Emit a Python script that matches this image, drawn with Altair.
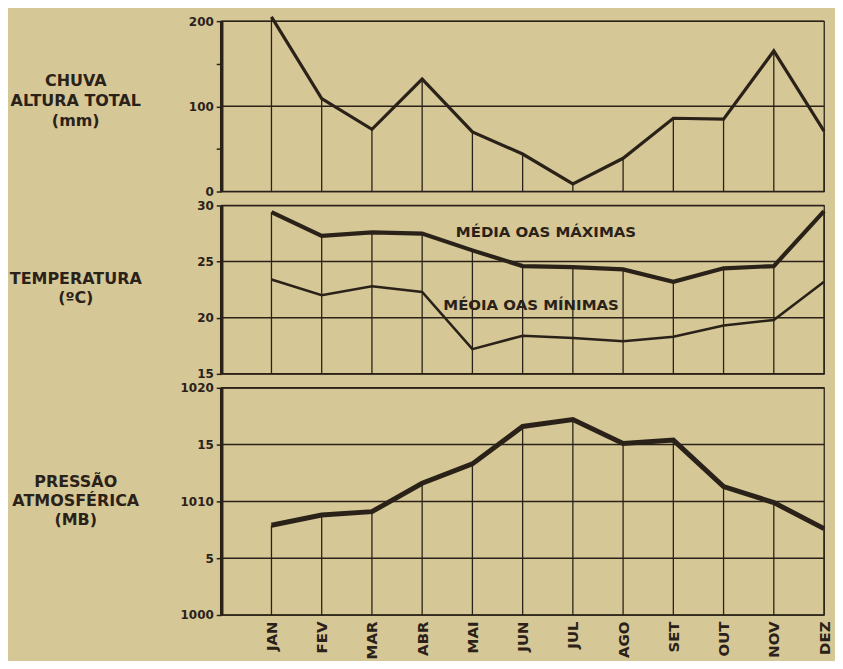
import altair as alt
import pandas as pd

# ---------------- data ----------------
months = ["JAN", "FEV", "MAR", "ABR", "MAI", "JUN", "JUL", "AGO", "SET", "OUT", "NOV", "DEZ"]
month_idx = list(range(1, 13))
chuva = [205, 109, 73, 132, 70, 44, 9, 39, 86, 85, 165, 71]
temp_max = [29.4, 27.3, 27.6, 27.5, 26.0, 24.6, 24.5, 24.3, 23.2, 24.4, 24.6, 29.5]
temp_min = [23.4, 22.0, 22.8, 22.3, 17.2, 18.4, 18.2, 17.9, 18.3, 19.3, 19.8, 23.2]
pressao = [1007.9, 1008.8, 1009.1, 1011.6, 1013.3, 1016.6, 1017.2, 1015.1, 1015.4, 1011.3, 1009.9, 1007.6]

chuva_dom = [0, 200]
temp_dom = [15, 30]
pres_dom = [1000, 1020]
chuva_ticks = [0, 50, 100, 150, 200]
chuva_grid = [0, 100, 200]
temp_grid = [15, 20, 25, 30]
pres_grid = [1000, 1005, 1010, 1015, 1020]
pres_label_text = ["1000", "5", "1010", "15", "1020"]

annot_text = ["MÉDIA OAS MÁXIMAS", "MÉOIA OAS MÍNIMAS"]
annot_x = [4.67, 4.42]
annot_y = [27.6, 21.1]

# ---------------- style ----------------
INK = "#2a2218"
BG = "#d6c797"
FONT = "DejaVu Sans"
W = 605

df = pd.DataFrame({"m": month_idx, "mes": months, "chuva": chuva,
                   "tmax": temp_max, "tmin": temp_min, "p": pressao,
                   "b_r": chuva_dom[0], "b_t": temp_dom[0], "b_p": pres_dom[0]})

xscale = alt.Scale(domain=[0, 12], nice=False, zero=False)
x_noaxis = alt.X("m:Q", scale=xscale, axis=None)

label_expr_months = "".join("datum.value == %d ? '%s' : " % (i, m) for i, m in zip(month_idx, months)) + "''"
pres_expr = "".join("datum.value == %d ? '%s' : " % (v, t) for v, t in zip(pres_grid, pres_label_text)) + "''"


def yaxis(values, title, title_y, line_h, label_expr=None):
    kw = dict(values=values, title=title, titleAngle=0, titleX=-146.5, titleY=title_y,
              titleAlign="center", titleBaseline="middle", titleFontSize=16,
              titleFont=FONT, titleFontWeight="bold", titleColor=INK, titleLineHeight=line_h,
              labelFont=FONT, labelFontWeight="bold", labelFontSize=12, labelColor=INK,
              labelPadding=3, tickSize=5, tickWidth=1.5, tickColor=INK,
              domainWidth=3.5, domainColor=INK, grid=False)
    if label_expr:
        kw["labelExpr"] = label_expr
    return alt.Axis(**kw)


# ---------- panel 1: chuva ----------
rs = alt.Scale(domain=chuva_dom, nice=False, zero=False)
rain_axis_layer = alt.Chart(pd.DataFrame({"v": chuva_ticks})).mark_rule(opacity=0).encode(
    y=alt.Y("v:Q", scale=rs,
            axis=yaxis(chuva_ticks, ["CHUVA", "ALTURA TOTAL", "(mm)"], 60, 20,
                       "datum.value == 0 || datum.value == 100 || datum.value == 200 ? datum.label : ''")))
rain_grid = alt.Chart(pd.DataFrame({"v": chuva_grid})).mark_rule(color=INK, strokeWidth=1.5).encode(
    y=alt.Y("v:Q", scale=rs))
rain_drop = alt.Chart(df).mark_rule(color=INK, strokeWidth=1.3).encode(
    x=x_noaxis, y=alt.Y("chuva:Q", scale=rs), y2="b_r:Q")
rain_line = alt.Chart(df).mark_line(color=INK, strokeWidth=3.2).encode(
    x=x_noaxis, y=alt.Y("chuva:Q", scale=rs))
rain = alt.layer(rain_axis_layer, rain_grid, rain_drop, rain_line).properties(width=W, height=171)

# ---------- panel 2: temperatura ----------
ts = alt.Scale(domain=temp_dom, nice=False, zero=False)
temp_axis_layer = alt.Chart(pd.DataFrame({"v": temp_grid})).mark_rule(color=INK, strokeWidth=1.5).encode(
    y=alt.Y("v:Q", scale=ts, axis=yaxis(temp_grid, ["TEMPERATURA", "(ºC)"], 73.5, 19)))
temp_drop = alt.Chart(df).mark_rule(color=INK, strokeWidth=1.3).encode(
    x=x_noaxis, y=alt.Y("tmax:Q", scale=ts), y2="b_t:Q")
tmax_line = alt.Chart(df).mark_line(color=INK, strokeWidth=4.2).encode(
    x=x_noaxis, y=alt.Y("tmax:Q", scale=ts))
tmin_line = alt.Chart(df).mark_line(color=INK, strokeWidth=2.6).encode(
    x=x_noaxis, y=alt.Y("tmin:Q", scale=ts))
annot = alt.Chart(pd.DataFrame({"t": annot_text, "x": annot_x, "y": annot_y})).mark_text(
    align="left", baseline="middle", font=FONT, fontWeight="bold", fontSize=15, color=INK).encode(
    x=alt.X("x:Q", scale=xscale, axis=None), y=alt.Y("y:Q", scale=ts), text="t:N")
temp = alt.layer(temp_axis_layer, temp_drop, tmin_line, tmax_line, annot).properties(width=W, height=169)

# ---------- panel 3: pressão ----------
ps = alt.Scale(domain=pres_dom, nice=False, zero=False)
pres_axis_layer = alt.Chart(pd.DataFrame({"v": pres_grid})).mark_rule(color=INK, strokeWidth=1.5).encode(
    y=alt.Y("v:Q", scale=ps,
            axis=yaxis(pres_grid, ["PRESSÃO", "ATMOSFÉRICA", "(MB)"], 94.5, 19, pres_expr)))
pres_drop = alt.Chart(df).mark_rule(color=INK, strokeWidth=1.3).encode(
    x=alt.X("m:Q", scale=xscale,
            axis=alt.Axis(values=month_idx, labelExpr=label_expr_months, labelAngle=-90,
                          labelFont=FONT, labelFontWeight="bold", labelFontSize=15,
                          labelColor=INK, labelPadding=6, ticks=False, domain=False,
                          grid=False, title="")),
    y=alt.Y("p:Q", scale=ps), y2="b_p:Q")
pres_line = alt.Chart(df).mark_line(color=INK, strokeWidth=5).encode(
    x=alt.X("m:Q", scale=xscale), y=alt.Y("p:Q", scale=ps))
pres = alt.layer(pres_axis_layer, pres_drop, pres_line).properties(width=W, height=228)

chart = alt.vconcat(rain, temp, pres, spacing=14, bounds="flush").properties(
    background=BG,
    padding={"left": 0, "top": 0, "right": 0, "bottom": 0},
).configure(font=FONT).configure_view(stroke=INK, strokeWidth=1.3)

chart.save("out.html", embed_options={"renderer": "svg", "actions": False})
